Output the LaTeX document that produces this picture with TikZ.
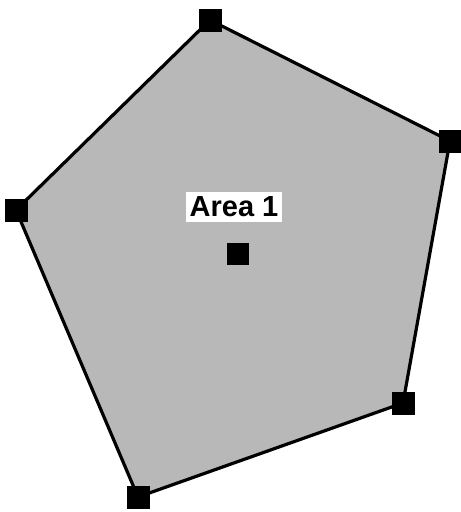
\documentclass[tikz,border=0pt]{standalone}
\usepackage{fontspec}
\setmainfont{Liberation Sans}
\begin{document}
\begin{tikzpicture}[x=1pt, y=-1pt,
		corner/.style={fill=black, minimum size=23pt, inner sep=0pt},
		area/.style={fill=black!28, draw=black, line width=3.2pt, line join=round}]
			\useasboundingbox (0,0) rectangle (461,512);
			\coordinate (top) at (210,20);
			\coordinate (right) at (450,141);
			\coordinate (lowright) at (403,403);
			\coordinate (bottom) at (138,497);
			\coordinate (left) at (16,210);
			\filldraw[area] (top) -- (right) -- (lowright) -- (bottom) -- (left) -- cycle;
			\foreach \v in {top, right, lowright, bottom, left}
				\node[corner] (sq-\v) at (\v) {};
			\node[corner, minimum size=22pt] (centroid) at (238,254) {};
			\node[fill=white, inner xsep=4pt, inner ysep=5pt, font=\fontsize{29}{32}\selectfont\bfseries] (label) at (234,207) {Area 1};
		\end{tikzpicture}
\end{document}
